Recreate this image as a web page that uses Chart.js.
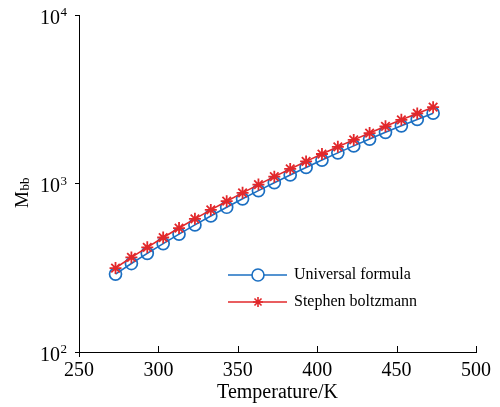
<!DOCTYPE html>
<html>
<head>
<meta charset="utf-8">
<script src="https://cdn.jsdelivr.net/npm/chart.js@4.4.1/dist/chart.umd.min.js"></script>
<style>
  html, body { margin: 0; padding: 0; background: #ffffff; }
  #wrap { width: 500px; height: 407px; }
</style>
</head>
<body>
<div id="wrap"><canvas id="c" width="500" height="407"></canvas></div>
<script>
// Temperature samples (K)
const temperatures = [273, 283, 293, 303, 313, 323, 333, 343, 353, 363, 373,
                      383, 393, 403, 413, 423, 433, 443, 453, 463, 473];
// Radiant exitance M_bb from the universal (Planck) formula
const universalFormula = [290, 335, 385, 440, 501, 568, 642, 723, 811, 907, 1011,
                          1124, 1246, 1378, 1520, 1672, 1836, 2012, 2200, 2400, 2615];
// Radiant exitance M_bb from the Stefan–Boltzmann law
const stephenBoltzmann = [315, 364, 418, 478, 544, 617, 697, 785, 880, 985, 1098,
                          1220, 1353, 1496, 1650, 1815, 1993, 2184, 2388, 2606, 2838];
// Axis ticks
const xTicks = [250, 300, 350, 400, 450, 500];
const yTickExponents = [2, 3, 4];

const seriesNames = ['Universal formula', 'Stephen boltzmann'];
const BLUE = '#1b6fc2';
const RED = '#e2282b';
const SERIF = '"Liberation Serif", "Times New Roman", serif';

const toPoints = ys => temperatures.map((t, i) => ({ x: t, y: ys[i] }));

function drawStar(ctx, x, y, r) {
  ctx.beginPath();
  for (let k = 0; k < 4; k++) {
    const a = k * Math.PI / 4;
    ctx.moveTo(x - r * Math.cos(a), y - r * Math.sin(a));
    ctx.lineTo(x + r * Math.cos(a), y + r * Math.sin(a));
  }
  ctx.stroke();
}

const decorations = {
  id: 'decorations',
  afterDraw(chart) {
    const ctx = chart.ctx;
    const xs = chart.scales.x;
    const ys = chart.scales.y;
    const area = chart.chartArea;
    ctx.save();

    // inward tick marks on the x axis
    ctx.strokeStyle = '#000';
    ctx.lineWidth = 1;
    xTicks.forEach(v => {
      const px = Math.round(xs.getPixelForValue(v)) + 0.5;
      ctx.beginPath();
      ctx.moveTo(px, area.bottom);
      ctx.lineTo(px, area.bottom - 6);
      ctx.stroke();
    });
    // short stub of the y axis below the origin
    const ox = Math.round(area.left) + 0.5;
    ctx.beginPath();
    ctx.moveTo(ox, area.bottom);
    ctx.lineTo(ox, area.bottom + 5);
    ctx.stroke();

    // y tick labels as powers of ten
    ctx.fillStyle = '#000';
    ctx.textBaseline = 'alphabetic';
    yTickExponents.forEach(e => {
      const py = ys.getPixelForValue(Math.pow(10, e));
      ctx.font = '13px ' + SERIF;
      ctx.textAlign = 'right';
      const expStr = String(e);
      const expW = ctx.measureText(expStr).width;
      ctx.fillText(expStr, 67, py + 1);
      ctx.font = '20px ' + SERIF;
      ctx.fillText('10', 67 - expW - 0.5, py + 8.5);
    });

    // y axis title: M with subscript bb
    ctx.save();
    ctx.translate(27.5, 208);
    ctx.rotate(-Math.PI / 2);
    ctx.textAlign = 'left';
    ctx.font = '19px ' + SERIF;
    ctx.fillText('M', 0, 0);
    const mW = ctx.measureText('M').width;
    ctx.font = '13px ' + SERIF;
    ctx.fillText('bb', mW + 0.5, 1);
    ctx.restore();

    // legend
    const rows = [
      { y: 275, color: BLUE, marker: 'circle' },
      { y: 302, color: RED, marker: 'star' }
    ];
    rows.forEach((row, i) => {
      ctx.strokeStyle = row.color;
      ctx.lineWidth = 1.6;
      ctx.beginPath();
      ctx.moveTo(228, row.y);
      ctx.lineTo(287, row.y);
      ctx.stroke();
      if (row.marker === 'circle') {
        ctx.fillStyle = '#ffffff';
        ctx.beginPath();
        ctx.arc(258, row.y, 6, 0, Math.PI * 2);
        ctx.fill();
        ctx.stroke();
      } else {
        drawStar(ctx, 258, row.y, 5);
      }
      ctx.fillStyle = '#000';
      ctx.font = '16px ' + SERIF;
      ctx.textAlign = 'left';
      ctx.textBaseline = 'middle';
      ctx.fillText(seriesNames[i], 294, row.y);
    });

    ctx.restore();
  }
};

new Chart(document.getElementById('c'), {
  type: 'line',
  data: {
    datasets: [
      {
        label: seriesNames[0],
        data: toPoints(universalFormula),
        borderColor: BLUE,
        borderWidth: 1.6,
        pointStyle: 'circle',
        pointRadius: 6,
        pointBorderWidth: 1.7,
        pointBorderColor: BLUE,
        pointBackgroundColor: 'rgba(0,0,0,0)',
        tension: 0,
        order: 1
      },
      {
        label: seriesNames[1],
        data: toPoints(stephenBoltzmann),
        borderColor: RED,
        borderWidth: 1.6,
        pointStyle: 'star',
        pointRadius: 6,
        pointBorderWidth: 1.8,
        pointBorderColor: RED,
        pointBackgroundColor: RED,
        tension: 0,
        order: 0
      }
    ]
  },
  options: {
    responsive: false,
    animation: false,
    events: [],
    layout: { padding: { top: 15, right: 24, left: 0, bottom: 0 } },
    plugins: {
      legend: { display: false },
      tooltip: { enabled: false }
    },
    scales: {
      x: {
        type: 'linear',
        min: 250,
        max: 500,
        afterBuildTicks: s => { s.ticks = xTicks.map(v => ({ value: v })); },
        afterFit: s => { s.height = 55; },
        ticks: {
          color: '#000',
          font: { family: SERIF, size: 20 },
          padding: 7,
          maxRotation: 0
        },
        grid: { display: true, drawOnChartArea: false, drawTicks: false },
        border: { display: true, color: '#000', width: 1 },
        title: {
          display: true,
          text: 'Temperature/K',
          color: '#000',
          font: { family: SERIF, size: 20 },
          padding: { top: 0, bottom: 2 }
        }
      },
      y: {
        type: 'logarithmic',
        min: 100,
        max: 10000,
        afterBuildTicks: s => { s.ticks = yTickExponents.map(e => ({ value: Math.pow(10, e), major: true })); },
        afterFit: s => { s.width = 79; },
        ticks: { display: false },
        grid: { display: true, drawOnChartArea: false, drawTicks: true, tickLength: 4, color: '#000' },
        border: { display: true, color: '#000', width: 1 }
      }
    }
  },
  plugins: [decorations]
});
</script>
</body>
</html>
